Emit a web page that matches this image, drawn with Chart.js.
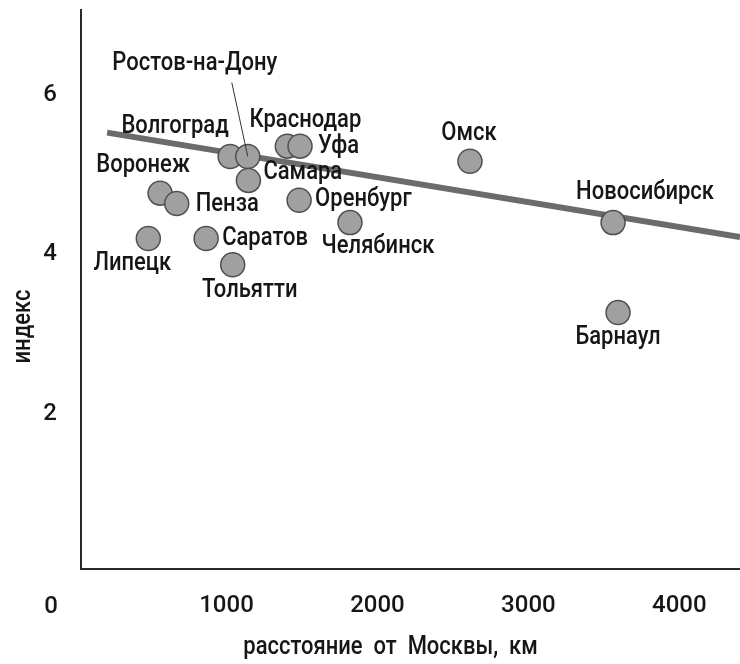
<!DOCTYPE html>
<html><head><meta charset="utf-8">
<script src="https://cdn.jsdelivr.net/npm/chart.js@4.4.1/dist/chart.umd.min.js"></script>
<style>html,body{margin:0;padding:0;background:#fff}#wrap{width:740px;height:664px}</style>
</head><body><div id="wrap"><canvas id="c" width="740" height="664"></canvas></div>
<script>
// ---- data ----
const cities = ['Липецк','Воронеж','Пенза','Саратов','Волгоград','Тольятти','Ростов-на-Дону','Самара','Краснодар','Уфа','Оренбург','Челябинск','Омск','Новосибирск','Барнаул'];
const distanceKm = [482, 560, 670, 865, 1024, 1041, 1141, 1145, 1403, 1487, 1481, 1818, 2613, 3561, 3594];
const indexValues = [4.20, 4.77, 4.64, 4.20, 5.23, 3.87, 5.23, 4.93, 5.36, 5.36, 4.68, 4.40, 5.17, 4.40, 3.27];
const trendX = [209, 4402];
const trendY = [5.53, 4.22];
const xTickValues = [1000, 2000, 3000, 4000];
const yTickValues = [2, 4, 6];
const xTitle = 'расстояние  от  Москвы,  км';
const yTitle = 'индекс';
const originLabel = '0';

// label placement (layout only): [dx, dy, align]
const labelPlacement = [
  [-16, 25, 'center'], [-17, -27, 'center'], [19, 1, 'left'], [16, 0, 'left'],
  [-55, -30, 'center'], [17, 26, 'center'], [-53, -93, 'center'], [15, -8, 'left'],
  [18, -25, 'center'], [18, 1, 'left'], [16, -1, 'left'], [28, 24, 'center'],
  [-1, -28, 'center'], [32, -30, 'center'], [0, 25, 'center']
];
const leaderIndex = 6;

const FONT = 'Roboto, "Liberation Sans", sans-serif';
const LABEL_FONT = '500 25px ' + FONT;
const CONDENSE = 0.88;
const TEXT = '#161616';

function condensedText(ctx, text, x, y, align) {
  ctx.save();
  ctx.translate(x, y);
  ctx.scale(CONDENSE, 1);
  ctx.textAlign = align;
  ctx.fillText(text, 0, 0);
  ctx.restore();
}

const overlay = {
  id: 'overlay',
  afterDatasetsDraw(chart) {
    const ctx = chart.ctx;
    const area = chart.chartArea;
    const meta = chart.getDatasetMeta(1);
    ctx.save();
    // leader line
    const lp = meta.data[leaderIndex];
    ctx.strokeStyle = '#333';
    ctx.lineWidth = 1;
    ctx.beginPath();
    ctx.moveTo(lp.x - 16, lp.y - 74);
    ctx.lineTo(lp.x, lp.y);
    ctx.stroke();
    // city labels
    ctx.font = LABEL_FONT;
    ctx.fillStyle = TEXT;
    ctx.textBaseline = 'middle';
    meta.data.forEach((pt, i) => {
      const p = labelPlacement[i];
      condensedText(ctx, cities[i], pt.x + p[0], pt.y + p[1], p[2]);
    });
    // origin label
    ctx.textAlign = 'center';
    ctx.font = '500 24px ' + FONT;
    ctx.fillText(originLabel, area.left - 30, area.bottom + 38);
    // axis titles
    ctx.font = LABEL_FONT;
    condensedText(ctx, xTitle, (area.left + area.right) / 2 - 20, area.bottom + 79, 'center');
    ctx.translate(area.left - 57, (area.top + area.bottom) / 2 + 37);
    ctx.rotate(-Math.PI / 2);
    condensedText(ctx, yTitle, 0, 0, 'center');
    ctx.restore();
  }
};

function zeroPadding(s) { s.paddingTop = 0; s.paddingBottom = 0; s.paddingLeft = 0; s.paddingRight = 0; }

new Chart(document.getElementById('c'), {
  data: {
    datasets: [
      {
        type: 'line',
        data: trendX.map((x, i) => ({x, y: trendY[i]})),
        borderColor: '#6b6b6b',
        borderWidth: 6,
        pointRadius: 0,
        fill: false,
        order: 2
      },
      {
        type: 'scatter',
        data: distanceKm.map((x, i) => ({x, y: indexValues[i]})),
        backgroundColor: '#a0a0a0',
        borderColor: '#505050',
        borderWidth: 1.5,
        pointRadius: 12,
        order: 1
      }
    ]
  },
  options: {
    responsive: false,
    animation: false,
    devicePixelRatio: 1,
    layout: {autoPadding: false, padding: {top: 10, right: 0, left: 0, bottom: 0}},
    plugins: {legend: {display: false}, tooltip: {enabled: false}},
    scales: {
      x: {
        type: 'linear',
        min: 36, max: 4402,
        grid: {display: false, drawTicks: false},
        border: {display: true, color: '#2a2a2a', width: 2},
        afterBuildTicks: s => { s.ticks = xTickValues.map(v => ({value: v})); },
        afterFit: s => { s.height = 95; zeroPadding(s); },
        ticks: {padding: 23, color: TEXT, font: {family: FONT, size: 24, weight: '500'}, callback: v => String(v)}
      },
      y: {
        type: 'linear',
        min: 0.05, max: 7.07,
        grid: {display: false, drawTicks: false},
        border: {display: true, color: '#2a2a2a', width: 2},
        afterBuildTicks: s => { s.ticks = yTickValues.map(v => ({value: v})); },
        afterFit: s => { s.width = 81; zeroPadding(s); },
        ticks: {padding: 24, color: TEXT, font: {family: FONT, size: 24, weight: '500'}, callback: v => String(v)}
      }
    }
  },
  plugins: [overlay]
});
</script>
</body></html>
